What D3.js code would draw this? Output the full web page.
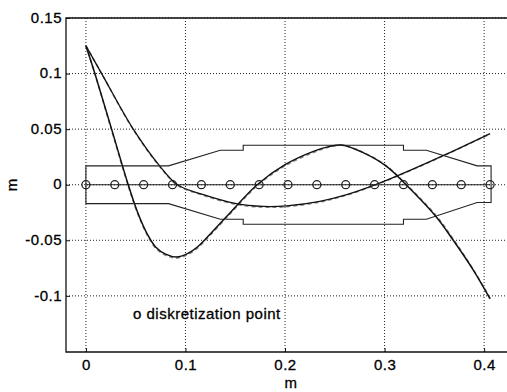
<!DOCTYPE html>
<html>
<head>
<meta charset="utf-8">
<script src="https://cdn.jsdelivr.net/npm/d3@7"></script>
<style>
  body { margin: 0; background: #fff; }
  svg text { font-family: "Liberation Sans", Arial, sans-serif; fill: #000; stroke: #000; stroke-width: 0.3px; letter-spacing: 0.5px; }
</style>
</head>
<body>
<svg id="chart"></svg>
<script>
// axis ticks
const xTicks = [0, 0.1, 0.2, 0.3, 0.4];
const yTicks = [0.15, 0.1, 0.05, 0, -0.05, -0.1];

// discretization points along the axis (m)
const nodeX = [0, 0.029, 0.058, 0.087, 0.116, 0.145, 0.174, 0.203, 0.232, 0.261, 0.29, 0.319, 0.348, 0.377, 0.406];

// stepped shaft outline: x positions and upper / lower radius
const shaftX = [0, 0.083, 0.135, 0.158, 0.158, 0.319, 0.319, 0.342, 0.393, 0.407];
const shaftUpper = [0.017, 0.017, 0.031, 0.031, 0.0355, 0.0355, 0.031, 0.031, 0.017, 0.017];
const shaftLower = [-0.017, -0.017, -0.031, -0.031, -0.0355, -0.0355, -0.031, -0.031, -0.016, -0.016];

// mode shape 1 (steep one)
const modeAx = [0, 0.009, 0.0258, 0.0425, 0.052, 0.062, 0.07, 0.08, 0.091, 0.102, 0.112, 0.12, 0.143, 0.172, 0.2, 0.2285, 0.245, 0.257, 0.279, 0.302, 0.3216, 0.352, 0.369, 0.389, 0.406];
const modeAy = [0.125, 0.1, 0.05, 0, -0.025, -0.045, -0.056, -0.0625, -0.065, -0.062, -0.056, -0.049, -0.027, 0, 0.018, 0.03, 0.0345, 0.0357, 0.0286, 0.0165, 0, -0.029, -0.05, -0.0766, -0.1027];
const modeAyFem = [0.125, 0.1, 0.049, -0.001, -0.026, -0.046, -0.057, -0.0635, -0.066, -0.063, -0.057, -0.05, -0.028, -0.001, 0.017, 0.029, 0.034, 0.0355, 0.0289, 0.0168, 0.0005, -0.028, -0.049, -0.0762, -0.102];

// mode shape 2
const modeBx = [0, 0.0158, 0.0476, 0.074, 0.092, 0.118, 0.151, 0.178, 0.2017, 0.235, 0.262, 0.291, 0.3156, 0.361, 0.406];
const modeBy = [0.125, 0.1, 0.05, 0.017, 0, -0.009, -0.017, -0.0195, -0.019, -0.015, -0.009, 0, 0.009, 0.027, 0.046];
const modeByFem = [0.125, 0.1, 0.0495, 0.0165, -0.0005, -0.0095, -0.0177, -0.0202, -0.0197, -0.0156, -0.0093, -0.0003, 0.0088, 0.0268, 0.0458];

const W = 507, H = 392;
const margin = { top: 18, bottom: 40, left: 66, right: -3 };

const svg = d3.select('#chart').attr('width', W).attr('height', H);

const x = d3.scaleLinear().domain([-0.02, 0.426]).range([margin.left, W - margin.right]);
const y = d3.scaleLinear().domain([-0.1505, 0.15]).range([H - margin.bottom, margin.top]);

const x0 = x.range()[0], x1 = x.range()[1];
const yTop = y.range()[1], yBot = y.range()[0];

// plain hyphen minus like the original
const fmt = d => String(+d.toFixed(3));

// grid
const grid = svg.append('g').attr('class', 'grid')
  .attr('stroke', '#222').attr('stroke-width', 1).attr('stroke-dasharray', '1,2');
grid.selectAll('.gx').data(xTicks).enter().append('line')
  .attr('x1', d => x(d)).attr('x2', d => x(d))
  .attr('y1', yTop).attr('y2', yBot);
grid.selectAll('.gy').data(yTicks).enter().append('line')
  .attr('y1', d => y(d)).attr('y2', d => y(d))
  .attr('x1', x0).attr('x2', x1);

// axes (inner ticks, labels outside)
const xAxis = d3.axisBottom(x).tickValues(xTicks).tickSize(-4).tickPadding(7).tickFormat(fmt);
const yAxis = d3.axisLeft(y).tickValues(yTicks).tickSize(-4).tickPadding(4).tickFormat(fmt);

const gx = svg.append('g').attr('transform', `translate(0,${yBot})`).call(xAxis);
const gy = svg.append('g').attr('transform', `translate(${x0},0)`).call(yAxis);
[gx, gy].forEach(g => {
  g.select('.domain').remove();
  g.selectAll('line').attr('stroke', '#111');
  g.selectAll('text').style('font-size', '15px').attr('fill', '#000');
});
gy.selectAll('text').attr('dy', '0.28em');

// frame
svg.append('path')
  .attr('d', `M${x1},${yTop}H${x0}V${yBot}H${x1}`)
  .attr('fill', 'none').attr('stroke', '#111').attr('stroke-width', 1.3);

// shaft outline
const shaftPts = shaftX.map((d, i) => [d, shaftUpper[i]])
  .concat(shaftX.map((d, i) => [d, shaftLower[i]]).reverse());
svg.append('path')
  .attr('d', d3.line().x(d => x(d[0])).y(d => y(d[1]))(shaftPts) + 'Z')
  .attr('fill', 'none').attr('stroke', '#222').attr('stroke-width', 1.1);

// axis line through the nodes
svg.append('line')
  .attr('x1', x(nodeX[0])).attr('x2', x(nodeX[nodeX.length - 1]))
  .attr('y1', y(0)).attr('y2', y(0))
  .attr('stroke', '#222').attr('stroke-width', 1.1);

svg.selectAll('.node').data(nodeX).enter().append('circle')
  .attr('class', 'node')
  .attr('cx', d => x(d)).attr('cy', y(0)).attr('r', 4)
  .attr('fill', 'none').attr('stroke', '#222').attr('stroke-width', 1.3);

// mode shapes
const line = d3.line().x(d => x(d[0])).y(d => y(d[1])).curve(d3.curveCatmullRom.alpha(0.5));
const zip = (xs, ys) => xs.map((d, i) => [d, ys[i]]);

const curves = [
  { pts: zip(modeAx, modeAyFem), dash: '4,3', color: '#888', w: 1.6 },
  { pts: zip(modeBx, modeByFem), dash: '4,3', color: '#888', w: 1.6 },
  { pts: zip(modeAx, modeAy), dash: null, color: '#111', w: 1.5 },
  { pts: zip(modeBx, modeBy), dash: null, color: '#111', w: 1.3 }
];
svg.selectAll('.mode').data(curves).enter().append('path')
  .attr('class', 'mode')
  .attr('d', d => line(d.pts))
  .attr('fill', 'none')
  .attr('stroke', d => d.color)
  .attr('stroke-width', d => d.w)
  .attr('stroke-dasharray', d => d.dash);

// labels
svg.append('text')
  .attr('x', 133).attr('y', 319)
  .style('font-size', '15px')
  .text('o diskretization point');

svg.append('text')
  .attr('x', 291).attr('y', 388)
  .attr('text-anchor', 'middle')
  .style('font-size', '15px')
  .text('m');

svg.append('text')
  .attr('transform', `translate(17,${y(0)}) rotate(-90)`)
  .attr('text-anchor', 'middle')
  .style('font-size', '15px')
  .text('m');
</script>
</body>
</html>
